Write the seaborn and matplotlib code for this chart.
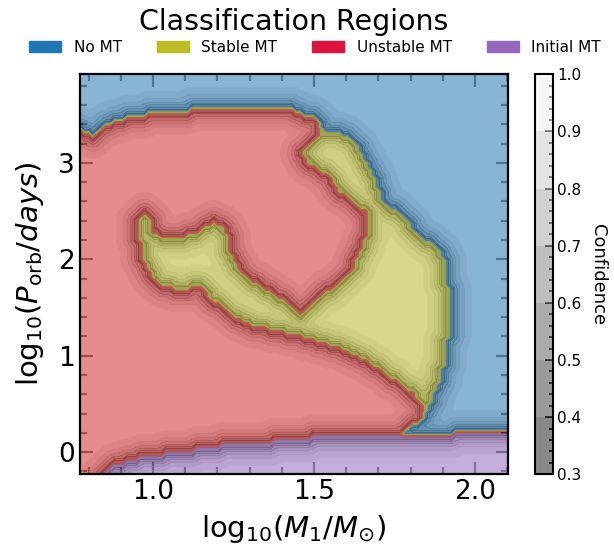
import numpy as np
import matplotlib
matplotlib.use("Agg")
import matplotlib.pyplot as plt
from matplotlib.path import Path
from matplotlib.patches import Patch
import seaborn as sns

sns.set_theme(style="ticks")
plt.rcParams["font.family"] = ["DejaVu Sans"]
plt.rcParams.update({"text.color": "black", "axes.labelcolor": "black",
                     "xtick.color": "black", "ytick.color": "black",
                     "axes.edgecolor": "black"})

# classes and colours (legend patches vs. filled regions)
class_names = ["No MT", "Stable MT", "Unstable MT", "Initial MT"]
legend_colors = ["#1f77b4", "#bcbd22", "#dc143c", "#9467bd"]
fill_colors = ["#1f77b4", "#bcbd22", "#d62728", "#9467bd"]

# region outlines, (log10 M1, log10 Porb)
unstable_x = [0.742, 0.814, 0.851, 0.929, 1.022, 1.146, 1.301, 1.425, 1.509, 1.525,
              1.602, 1.643, 1.683, 1.714, 1.767, 1.829, 1.891, 1.913, 1.916, 1.913,
              1.891, 1.870, 1.851, 1.820, 1.767, 1.752, 0.742]
unstable_y = [3.427, 3.271, 3.396, 3.479, 3.520, 3.551, 3.572, 3.551, 3.448, 3.344,
              3.271, 3.136, 2.856, 2.586, 2.482, 2.233, 2.098, 1.859, 1.443, 1.028,
              0.748, 0.592, 0.415, 0.301, 0.197, -0.291, -0.291]

stable_x = [1.525, 1.602, 1.643, 1.683, 1.714, 1.767, 1.829, 1.891, 1.913, 1.916,
            1.913, 1.891, 1.870, 1.851, 1.807, 1.705, 1.602, 1.497, 1.416, 1.323,
            1.248, 1.186, 1.146, 1.075, 1.012, 0.969, 0.950, 0.969, 0.991, 1.000,
            1.043, 1.137, 1.186, 1.224, 1.233, 1.248, 1.292, 1.354, 1.416, 1.457,
            1.509, 1.559, 1.612, 1.652, 1.668, 1.665, 1.581, 1.550, 1.481, 1.466]
stable_y = [3.344, 3.271, 3.136, 2.856, 2.586, 2.482, 2.233, 2.098, 1.859, 1.443,
            1.028, 0.748, 0.592, 0.415, 0.613, 0.852, 1.059, 1.163, 1.236, 1.298,
            1.402, 1.578, 1.713, 1.682, 1.755, 2.025, 2.388, 2.482, 2.409, 2.274,
            2.201, 2.274, 2.388, 2.336, 2.201, 1.994, 1.817, 1.682, 1.547, 1.443,
            1.578, 1.713, 1.859, 2.129, 2.336, 2.482, 2.690, 2.856, 3.001, 3.115]

initial_x = [0.835, 0.866, 0.960, 1.124, 1.146, 1.354, 1.394, 1.705, 1.829, 2.102,
             2.140, 2.140]
initial_y = [-0.291, -0.156, -0.052, 0.021, 0.052, 0.093, 0.135, 0.177, 0.166, 0.228,
             0.228, -0.291]

conf_levels = [0.3, 0.4, 0.5, 0.6, 0.7, 0.8, 0.9, 1.0]
conf_floor = 0.31      # confidence right on a class boundary
conf_width = 10.0      # width of the low-confidence band, in px

x_lim = (0.773, 2.102)
y_lim = (-0.23, 3.92)

# classify a grid
nx, ny = 100, 100
gx = np.linspace(x_lim[0], x_lim[1], nx)
gy = np.linspace(y_lim[0], y_lim[1], ny)
X, Y = np.meshgrid(gx, gy)
pts = np.column_stack([X.ravel(), Y.ravel()])

cls = np.zeros(pts.shape[0])
for code, xs, ys in [(2, unstable_x, unstable_y),
                     (1, stable_x, stable_y),
                     (3, initial_x, initial_y)]:
    inside = Path(np.column_stack([xs, ys])).contains_points(pts)
    cls[inside] = code
cls = cls.reshape(X.shape)

# confidence drops near class boundaries
edge = np.zeros_like(cls, dtype=bool)
edge[:, 1:] |= cls[:, 1:] != cls[:, :-1]
edge[:, :-1] |= cls[:, 1:] != cls[:, :-1]
edge[1:, :] |= cls[1:, :] != cls[:-1, :]
edge[:-1, :] |= cls[1:, :] != cls[:-1, :]
scale = np.array([322.0, 96.3])
P = pts * scale
B = P[edge.ravel()]
dist = np.empty(P.shape[0])
for i in range(0, P.shape[0], 2000):
    d = np.sqrt(((P[i:i + 2000, None, :] - B[None, :, :]) ** 2).sum(-1))
    dist[i:i + 2000] = d.min(axis=1)
conf = 1 - (1 - conf_floor) * np.exp(-dist / conf_width)
conf = np.minimum(conf, 0.999).reshape(X.shape)

fig = plt.figure(figsize=(6.14, 5.54), dpi=100)
ax = fig.add_axes([0.130, 0.144, 0.697, 0.722])
cax = fig.add_axes([0.871, 0.144, 0.029, 0.722])

cs = ax.contourf(X, Y, conf, levels=conf_levels, cmap="gray", alpha=0.5)
ax.contourf(X, Y, cls, levels=[-0.5, 0.5, 1.5, 2.5, 3.5], colors=fill_colors, alpha=0.5)

ax.set_xlim(*x_lim)
ax.set_ylim(*y_lim)
ax.set_xticks([1.0, 1.5, 2.0])
ax.set_yticks([0, 1, 2, 3])
ax.xaxis.set_minor_locator(matplotlib.ticker.MultipleLocator(0.1))
ax.yaxis.set_minor_locator(matplotlib.ticker.MultipleLocator(0.2))
ax.tick_params(which="both", direction="in", top=True, right=True, width=1.6)
ax.tick_params(which="major", length=9, labelsize=19)
ax.tick_params(which="minor", length=5)
for s in ax.spines.values():
    s.set_linewidth(1.6)
ax.set_xlabel(r"$\mathrm{log}_{10}(M_1/M_{\odot})$", fontsize=21, labelpad=6)
ax.set_ylabel(r"$\mathrm{log}_{10}(P_{\rm orb}/days)$", fontsize=21, labelpad=9)

cb = fig.colorbar(cs, cax=cax)
cb.set_ticks(conf_levels)
cax.yaxis.set_minor_locator(matplotlib.ticker.MultipleLocator(0.02))
cax.tick_params(which="both", direction="in", labelsize=11, width=1.2)
cax.tick_params(which="major", length=6)
cax.tick_params(which="minor", length=3)
cb.outline.set_linewidth(1.5)
cb.set_label("Confidence", fontsize=13, rotation=270, labelpad=18)

ax.set_title("Classification Regions", fontsize=20.5, pad=32)
handles = [Patch(color=c, label=n) for c, n in zip(legend_colors, class_names)]
fig.legend(handles=handles, loc="center", bbox_to_anchor=(0.513, 0.915), ncol=4,
           frameon=False, fontsize=11, handlelength=2.1, handleheight=0.7,
           columnspacing=2.3, handletextpad=0.8)

fig.savefig("out.png", dpi=100)
